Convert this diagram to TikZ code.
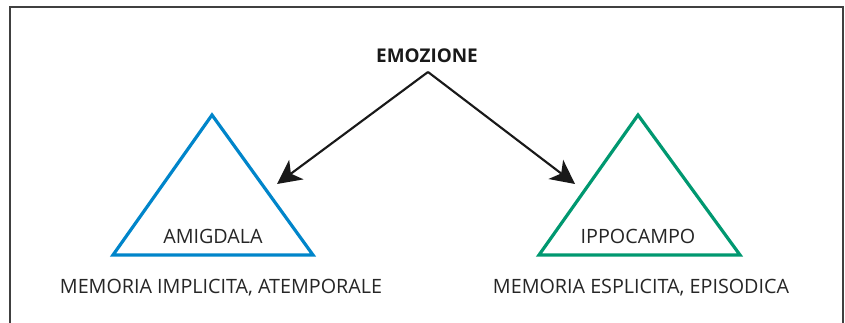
\documentclass[tikz,border=0pt]{standalone}
\usepackage{fontspec}
\setmainfont{Open Sans}
\usetikzlibrary{arrows.meta}
\definecolor{amblue}{RGB}{0,133,202}
\definecolor{ipgreen}{RGB}{0,152,112}
\tikzset{
    frame/.style={draw=black!75,line width=1.5},
    tri/.style={line width=2.4,line join=miter},
    arr/.style={-{Stealth[length=18,width=18,inset=5]},line width=1.6,black!90},
    lbl/.style={font=\fontsize{14.8}{17}\selectfont,text=black!85,inner sep=0pt},
    head/.style={font=\bfseries\fontsize{14.2}{17}\selectfont,text=black!90,inner sep=0pt}
}
\begin{document}
\begin{tikzpicture}[x=0.75pt,y=-0.75pt]
  \useasboundingbox (0,0) rectangle (845,323);
  \clip (0,0) rectangle (845,323);
  \draw[frame] (10,7) rectangle (843,340);

  % Triangles
  \coordinate (al) at (113,255);
  \coordinate (ar) at (313,255);
  \coordinate (at) at (212,115);
  \draw[tri,amblue] (al) -- (ar) -- (at) -- cycle;
  \coordinate (il) at (539,255);
  \coordinate (ir) at (740,255);
  \coordinate (it) at (638,115);
  \draw[tri,ipgreen] (il) -- (ir) -- (it) -- cycle;

  % Labels
  \node[head] (emo) at (427,56) {EMOZIONE};
  \node[lbl] (amig) at (213,236) {AMIGDALA};
  \node[lbl] (ippo) at (638,236) {IPPOCAMPO};
  \node[lbl] (impl) at (221,288) {MEMORIA IMPLICITA, ATEMPORALE};
  \node[lbl] (espl) at (641,288) {MEMORIA ESPLICITA, EPISODICA};

  % Arrows
  \coordinate (src) at (428,72);
  \coordinate (tl) at (277,184);
  \coordinate (tr) at (575,184);
  \draw[arr] (src) -- (tl);
  \draw[arr] (src) -- (tr);
\end{tikzpicture}
\end{document}
